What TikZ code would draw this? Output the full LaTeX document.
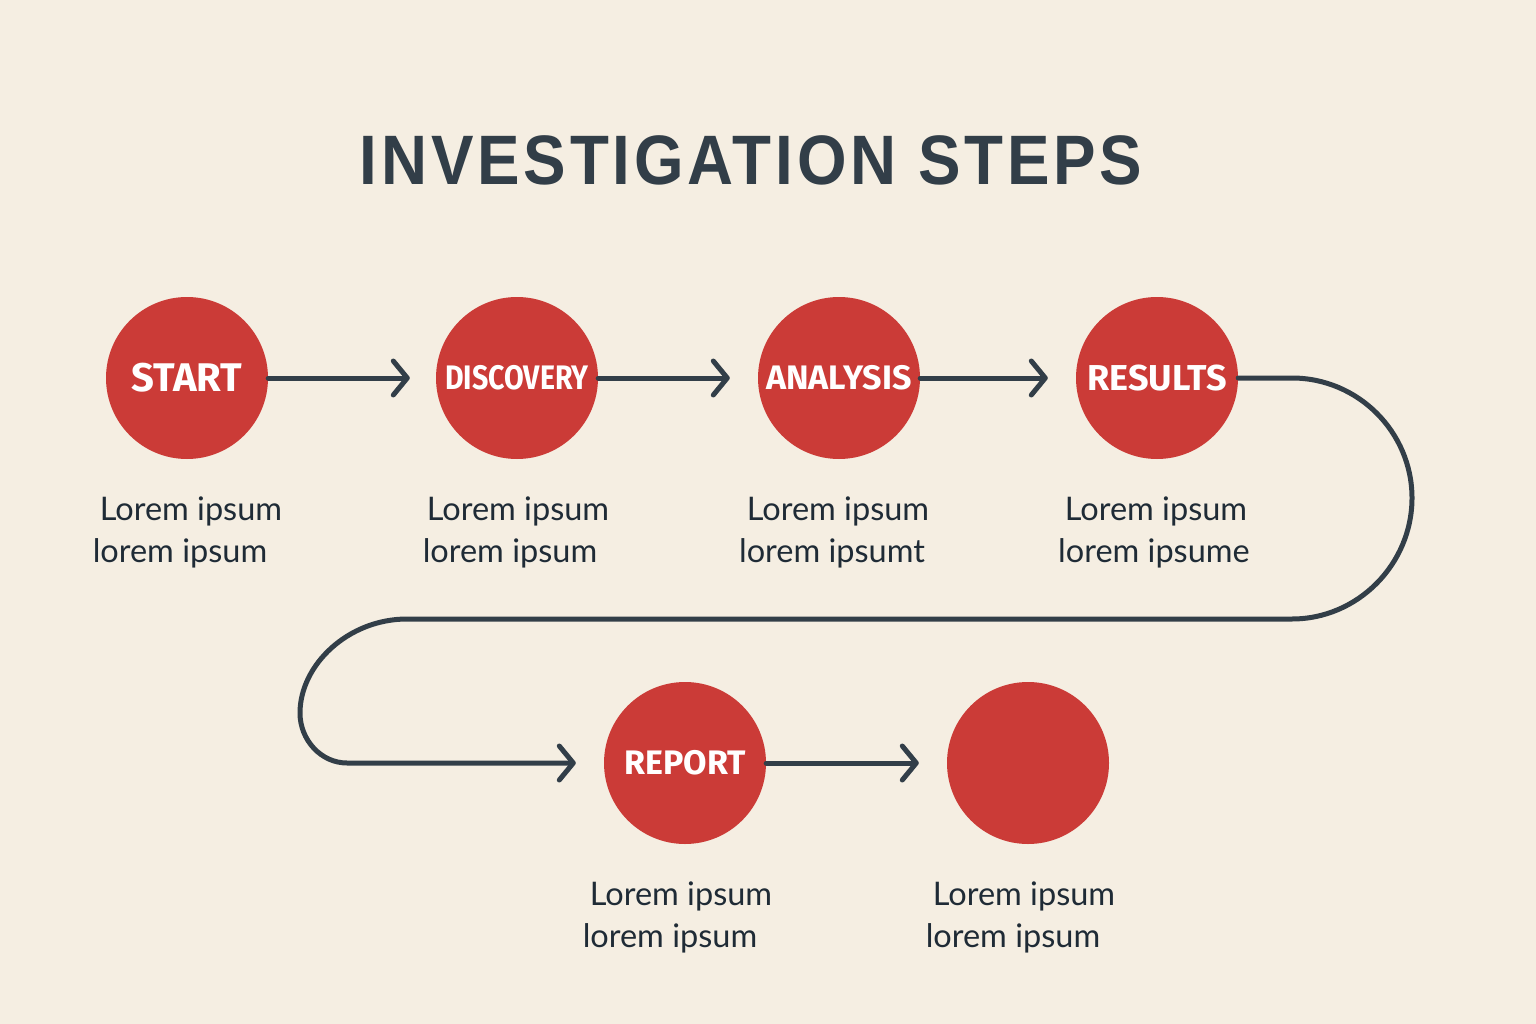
\documentclass[tikz,border=0pt]{standalone}
\usepackage{fontspec}
\setmainfont{Lato}
\newfontfamily\titlefont[LetterSpace=6]{Liberation Sans}
\newfontfamily\circfont{Fira Sans}
\usetikzlibrary{arrows.meta}
\definecolor{bg}{HTML}{F5EEE2}
\definecolor{stepred}{HTML}{CB3B37}
\definecolor{ink}{HTML}{323E48}
\definecolor{txt}{HTML}{1F2B36}
\tikzset{
  stepcircle/.style={circle, fill=stepred, draw=none, minimum size=162pt, inner sep=0pt,
    text=white, font=\circfont\bfseries\fontsize{34}{40}\selectfont},
  conn/.style={draw=ink, line width=5pt, line cap=round, line join=round,
    -{Straight Barb[length=14pt, width=34pt, line cap=round, line join=round]}},
  desc/.style={text=txt, font=\fontsize{32.5}{38}\selectfont, inner sep=0pt, anchor=base},
}
\begin{document}
\begin{tikzpicture}[x=1pt,y=-1pt]
\fill[bg] (0,0) rectangle (1536,1024);
\useasboundingbox (0,0) rectangle (1536,1024);

\node[text=ink, font=\titlefont\bfseries\fontsize{70}{80}\selectfont, anchor=base, inner sep=0pt] (title) at (751,185) {\scalebox{0.91}[1]{INVESTIGATION STEPS}};

\node[stepcircle, font=\circfont\bfseries\fontsize{40}{46}\selectfont] (start) at (187,378) {START};
\node[stepcircle] (disc) at (517,378) {\scalebox{0.84}[1]{DISCOVERY}};
\node[stepcircle] (anal) at (839,378) {ANALYSIS};
\node[stepcircle, font=\circfont\bfseries\fontsize{36}{42}\selectfont] (res) at (1157,378) {RESULTS};
\node[stepcircle] (rep) at (685,763) {REPORT};
\node[stepcircle] (last) at (1028,763) {};

\draw[conn, shorten >=26pt] (start) -- (disc);
\draw[conn, shorten >=28pt] (disc) -- (anal);
\draw[conn, shorten >=28pt] (anal) -- (res);
\draw[conn, shorten >=28pt] (rep) -- (last);
\draw[conn] (res.east) -- (1292,378)
  .. controls (1358,378) and (1412,432) .. (1412,498)
  .. controls (1412,564) and (1358,619) .. (1292,619)
  -- (407,619)
  .. controls (348,619) and (300,665) .. (300,713)
  .. controls (300,740) and (321,763) .. (347,763)
  -- ([xshift=-28pt]rep.west);

\node[desc] (l1a) at (191,520) {Lorem ipsum};
\node[desc] (l1b) at (180,562) {lorem ipsum};
\node[desc] (l2a) at (518,520) {Lorem ipsum};
\node[desc] (l2b) at (510,562) {lorem ipsum};
\node[desc] (l3a) at (838,520) {Lorem ipsum};
\node[desc] (l3b) at (832,562) {lorem ipsumt};
\node[desc] (l4a) at (1156,520) {Lorem ipsum};
\node[desc] (l4b) at (1154,562) {lorem ipsume};
\node[desc] (l5a) at (681,905) {Lorem ipsum};
\node[desc] (l5b) at (670,947) {lorem ipsum};
\node[desc] (l6a) at (1024,905) {Lorem ipsum};
\node[desc] (l6b) at (1013,947) {lorem ipsum};
\end{tikzpicture}
\end{document}
